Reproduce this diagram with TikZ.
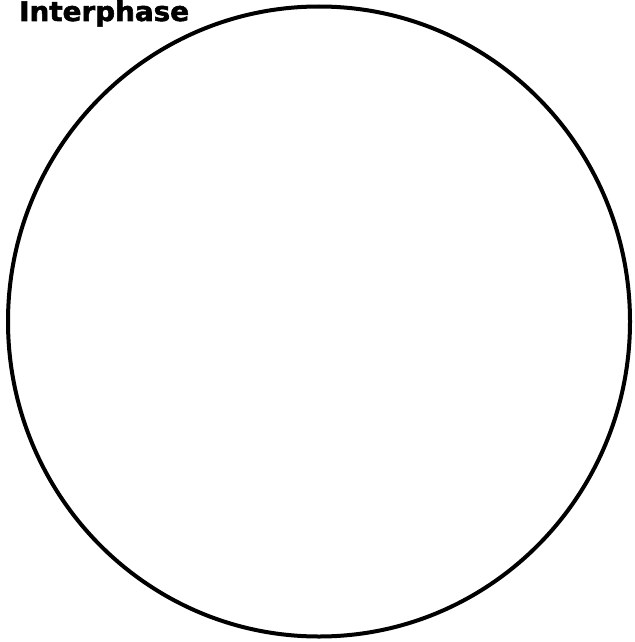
\documentclass[tikz,border=0pt]{standalone}
\usepackage{fontspec}
\newfontfamily\titlefont{DejaVu Sans}[BoldFeatures={FakeBold=2}]
\usetikzlibrary{positioning}

\begin{document}
\begin{tikzpicture}[
        x=1pt, y=-1pt,
        phase label/.style={
            anchor=base west,
            inner sep=0pt,
            font=\titlefont\bfseries\fontsize{27}{27}\selectfont,
            xscale=1.03
        },
        cell wall/.style={
            draw=black,
            line width=4pt
        }
    ]
        \useasboundingbox (0,0) rectangle (634,642);

        % Cell outline
        \coordinate (center) at (319,321.5);
        \draw[cell wall] (center) ellipse[x radius=311pt, y radius=315pt];

        % Stage name
        \node[phase label] (title) at (19,21) {Interphase};
    \end{tikzpicture}
\end{document}
